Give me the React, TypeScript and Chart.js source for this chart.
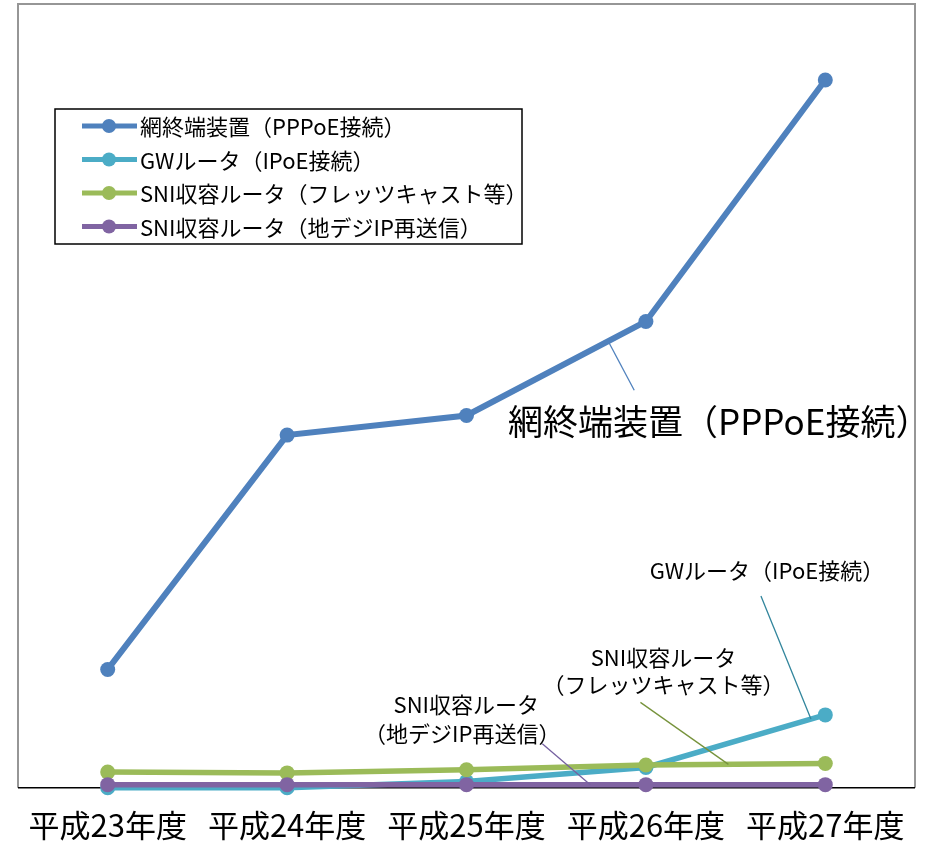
import React, { useEffect, useRef } from "react";
import { Chart, registerables } from "chart.js";

Chart.register(...registerables);

const categories = ["平成23年度", "平成24年度", "平成25年度", "平成26年度", "平成27年度"];
const seriesNames = [
  "網終端装置（PPPoE接続）",
  "GWルータ（IPoE接続）",
  "SNI収容ルータ（フレッツキャスト等）",
  "SNI収容ルータ（地デジIP再送信）",
];
const pppoe = [15.1, 45.0, 47.5, 59.5, 90.3];
const ipoe = [0, 0, 0.8, 2.6, 9.3];
const flets = [2.0, 1.9, 2.3, 2.9, 3.1];
const chideji = [0.4, 0.4, 0.4, 0.4, 0.4];
const seriesColors = ["#4F81BD", "#4BACC6", "#9BBB59", "#8064A2"];
const leaderColors = ["#4F81BD", "#31859C", "#77933C", "#7560A0"];

const FONT = "'Noto Sans CJK JP', 'Noto Sans', sans-serif";

// annotation: dataset, segment index, fraction, leader end offset, label lines with offsets
const annotations = [
  { ds: 0, seg: 2, t: 0.79, end: [26, 49], size: 35, lines: [{ text: "網終端装置（PPPoE接続）", dx: 111, dy: 81 }] },
  { ds: 1, seg: 3, t: 0.92, end: [-50, -123], size: 22, lines: [{ text: "GWルータ（IPoE接続）", dx: -44, dy: -148 }] },
  {
    ds: 2, seg: 3, t: 0.46, end: [-88, -62], size: 22,
    lines: [
      { text: "SNI収容ルータ", dx: -65, dy: -107 },
      { text: "（フレッツキャスト等）", dx: -65, dy: -80 },
    ],
  },
  {
    ds: 3, seg: 2, t: 0.69, end: [-48, -41], size: 22,
    lines: [
      { text: "SNI収容ルータ", dx: -124, dy: -80 },
      { text: "（地デジIP再送信）", dx: -128, dy: -51 },
    ],
  },
];

const framePlugin = {
  id: "frame",
  beforeDatasetsDraw(chart: any) {
    const { ctx, chartArea: a } = chart;
    ctx.save();
    ctx.strokeStyle = "#969696";
    ctx.lineWidth = 2;
    ctx.beginPath();
    ctx.moveTo(a.left, a.bottom);
    ctx.lineTo(a.left, a.top);
    ctx.lineTo(a.right, a.top);
    ctx.lineTo(a.right, a.bottom);
    ctx.stroke();
    ctx.strokeStyle = "#000";
    ctx.lineWidth = 1.5;
    ctx.beginPath();
    ctx.moveTo(a.left, a.bottom);
    ctx.lineTo(a.right, a.bottom);
    ctx.stroke();
    ctx.restore();
  },
};

const overlayPlugin = {
  id: "overlay",
  afterDraw(chart: any) {
    const { ctx } = chart;
    ctx.save();
    // annotations
    annotations.forEach((an) => {
      const meta = chart.getDatasetMeta(an.ds);
      const p = meta.data[an.seg];
      const q = meta.data[an.seg + 1];
      const ax = p.x + (q.x - p.x) * an.t;
      const ay = p.y + (q.y - p.y) * an.t;
      ctx.strokeStyle = leaderColors[an.ds];
      ctx.lineWidth = 1.3;
      ctx.beginPath();
      ctx.moveTo(ax, ay);
      ctx.lineTo(ax + an.end[0], ay + an.end[1]);
      ctx.stroke();
      ctx.fillStyle = "#000";
      ctx.font = `${an.size}px ${FONT}`;
      ctx.textAlign = "center";
      ctx.textBaseline = "middle";
      an.lines.forEach((l) => ctx.fillText(l.text, ax + l.dx, ay + l.dy));
    });
    // legend
    const a = chart.chartArea;
    const bx = a.left + 37;
    const by = a.top + 105;
    const bw = 467;
    const bh = 135;
    ctx.fillStyle = "#fff";
    ctx.fillRect(bx, by, bw, bh);
    ctx.strokeStyle = "#000";
    ctx.lineWidth = 1.5;
    ctx.strokeRect(bx, by, bw, bh);
    ctx.font = `22px ${FONT}`;
    ctx.textAlign = "left";
    ctx.textBaseline = "middle";
    seriesNames.forEach((name, i) => {
      const y = by + 17 + i * 33.5;
      ctx.strokeStyle = seriesColors[i];
      ctx.lineWidth = 5;
      ctx.beginPath();
      ctx.moveTo(bx + 27, y);
      ctx.lineTo(bx + 82, y);
      ctx.stroke();
      ctx.fillStyle = seriesColors[i];
      ctx.beginPath();
      ctx.arc(bx + 54, y, 7, 0, Math.PI * 2);
      ctx.fill();
      ctx.fillStyle = "#000";
      ctx.fillText(name, bx + 85, y + 1);
    });
    ctx.restore();
  },
};

export default function App() {
  const ref = useRef<HTMLCanvasElement | null>(null);
  useEffect(() => {
    if (!ref.current) return;
    const values = [pppoe, ipoe, flets, chideji];
    const chart = new Chart(ref.current, {
      type: "line",
      data: {
        labels: categories,
        datasets: values.map((v, i) => ({
          label: seriesNames[i],
          data: v,
          borderColor: seriesColors[i],
          backgroundColor: seriesColors[i],
          borderWidth: i === 0 ? 6 : 5.5,
          pointRadius: 7.5,
          pointBorderWidth: 0,
          pointBackgroundColor: seriesColors[i],
          tension: 0,
          clip: false as any,
          order: 4 - i,
        })),
      },
      options: {
        animation: false,
        responsive: false,
        devicePixelRatio: 1,
        layout: { autoPadding: false, padding: { left: 18, top: 4, right: 13, bottom: -18 } },
        plugins: { legend: { display: false }, tooltip: { enabled: false } },
        scales: {
          x: {
            offset: true,
            grid: { display: false, drawTicks: false },
            border: { display: false },
            ticks: { color: "#000", padding: 19, font: { size: 31, family: FONT } },
          },
          y: { display: false, min: 0, max: 100 },
        },
      },
      plugins: [framePlugin, overlayPlugin],
    });
    return () => chart.destroy();
  }, []);
  return (
    <div style={{ position: "absolute", left: 0, top: 0, width: 928, height: 845, background: "#fff" }}>
      <canvas ref={ref} width={928} height={845} />
    </div>
  );
}
